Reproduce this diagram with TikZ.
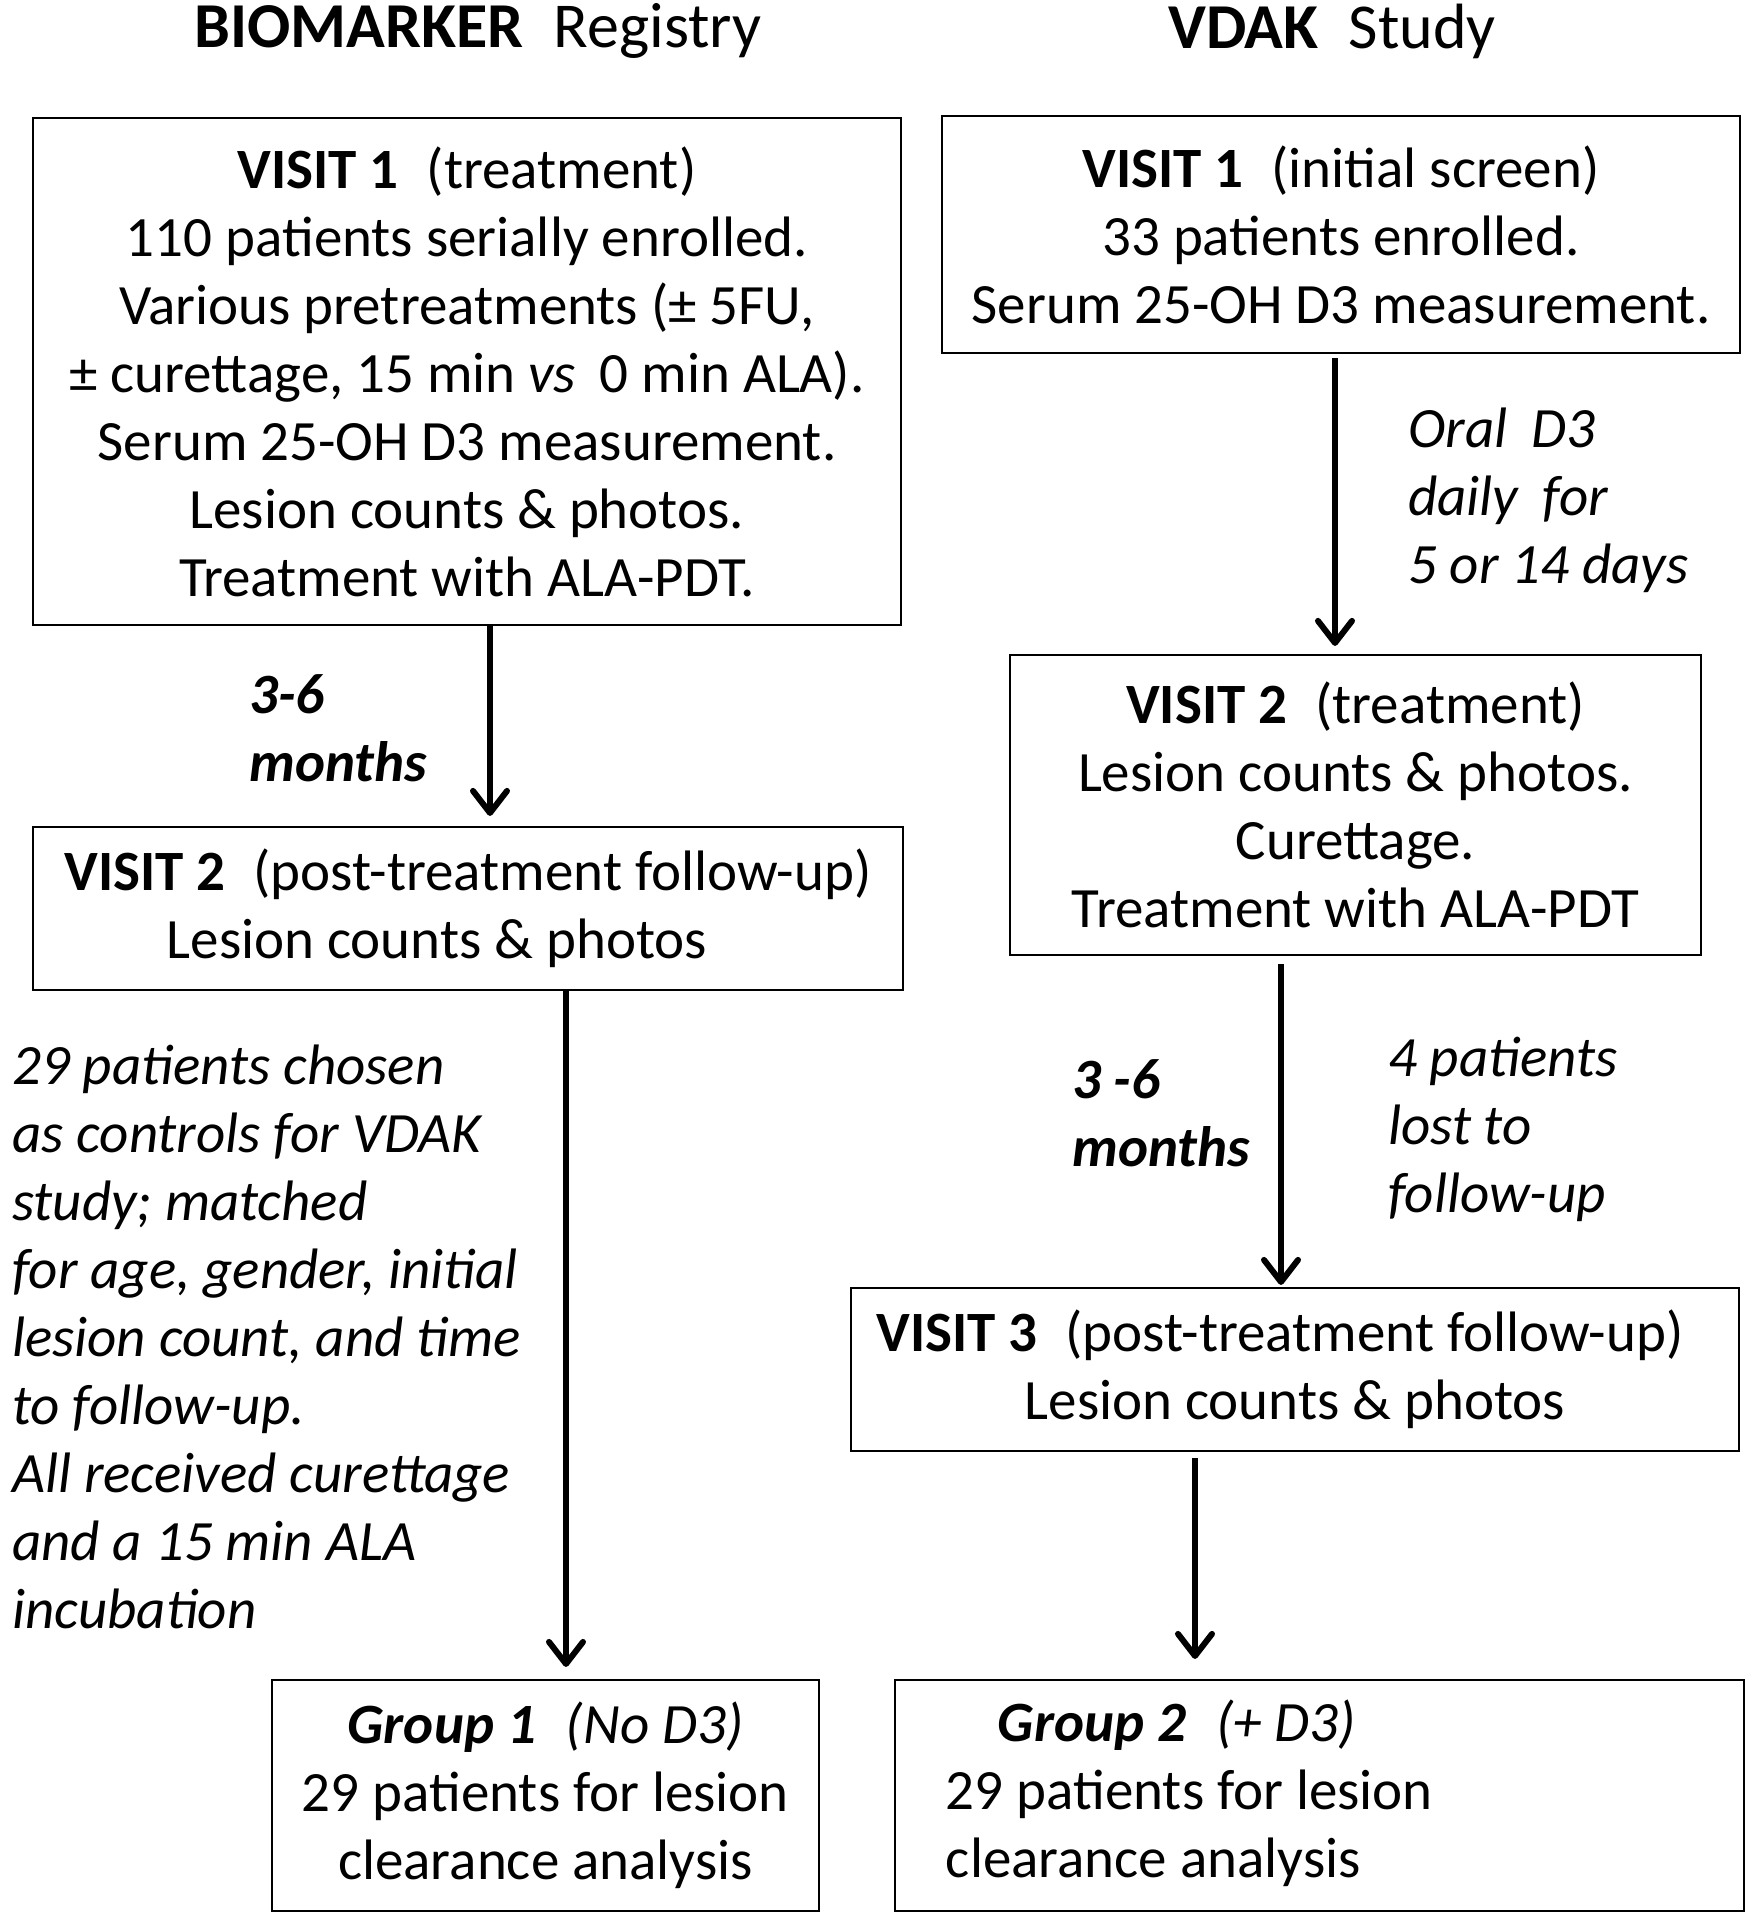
\documentclass[tikz,border=0pt]{standalone}
\usepackage{fontspec}
\setmainfont{Carlito}
\usetikzlibrary{arrows.meta}
\newcommand\bodysize{\fontsize{57}{68}\selectfont}
\tikzset{
  visit/.style={draw,line width=2.2pt,align=center,inner sep=0pt},
  note/.style={anchor=west,align=left,inner sep=0pt,font=\bodysize\itshape},
  flow/.style={line width=6pt,-{Straight Barb[length=22pt,width=34pt,round]}},
}
\begin{document}
\begin{tikzpicture}[x=1pt,y=1pt,font=\bodysize]
    \useasboundingbox (0,0) rectangle (1749,-1920);
    % titles
    \node[font=\fontsize{64}{68}\selectfont] (regtitle) at (478,-31) {\textbf{BIOMARKER}\hspace{30pt}Registry};
    \node[font=\fontsize{64}{68}\selectfont] (vdaktitle) at (1332,-31) {\textbf{VDAK}\hspace{30pt}Study};
    % registry column
    \node[visit,minimum width=868pt,minimum height=507pt] (lv1) at (467,-371.5)
        {\textbf{VISIT 1}\hspace{28pt}(treatment)\\110 patients serially enrolled.\\Various pretreatments (± 5FU,\\± curettage, 15 min \textit{vs}\hspace{24pt}0 min ALA).\\Serum 25-OH D3 measurement.\\Lesion counts \& photos.\\Treatment with ALA-PDT.};
    \node[visit,minimum width=870pt,minimum height=163pt] (lv2) at (468,-908.5)
        {\textbf{VISIT 2}\hspace{28pt}(post-treatment follow-up)\\Lesion counts \& photos\hspace*{62pt}};
    \node[visit,minimum width=547pt,minimum height=231pt] (g1) at (545.5,-1795.5)
        {\textbf{\textit{Group 1}}\hspace{30pt}\textit{(No D3)}\\29 patients for lesion\\clearance analysis};
    % vdak column
    \node[visit,minimum width=798pt,minimum height=237pt] (rv1) at (1341,-234.5)
        {\textbf{VISIT 1}\hspace{28pt}(initial screen)\\33 patients enrolled.\\Serum 25-OH D3 measurement.};
    \node[visit,minimum width=691pt,minimum height=300pt] (rv2) at (1355.5,-805)
        {\textbf{VISIT 2}\hspace{28pt}(treatment)\\Lesion counts \& photos.\\Curettage.\\Treatment with ALA-PDT};
    \node[visit,minimum width=888pt,minimum height=163pt] (rv3) at (1295,-1369.5)
        {\textbf{VISIT 3}\hspace{28pt}(post-treatment follow-up)\hspace*{30pt}\\Lesion counts \& photos};
    \node[visit,minimum width=849pt,minimum height=231pt] (g2) at (1319.5,-1795.5)
        {\begin{tabular}{@{}l@{}}\hspace*{52pt}\textbf{\textit{Group 2}}\hspace{30pt}\textit{(+ D3)}\\29 patients for lesion\\clearance analysis\end{tabular}\hspace*{260pt}};
    % side notes
    \node[note,font=\bodysize\bfseries\itshape] (lwait) at (249,-728) {3-6\\months};
    \node[note] (ctrl) at (12,-1337) {29 patients chosen\\as controls for VDAK\\study; matched\\for age, gender, initial\\lesion count, and time\\to follow-up.\\All received curettage\\and a 15 min ALA\\incubation};
    \node[note] (oral) at (1408,-500) {Oral\hspace{24pt}D3\\daily\hspace{24pt}for\\5 or 14 days};
    \node[note,font=\bodysize\bfseries\itshape] (rwait) at (1072,-1113) {3 -6\\months};
    \node[note] (lost) at (1388,-1129) {4 patients\\lost to\\follow-up};
    % arrows
    \draw[flow,shorten >=10pt] ([xshift=23pt]lv1.south) -- ([xshift=23pt]lv1.south |- lv2.north);
    \draw[flow,shorten >=12pt] ([xshift=98pt]lv2.south) -- ([xshift=98pt]lv2.south |- g1.north);
    \draw[flow,shorten <=4pt,shorten >=8pt] ([xshift=-6pt]rv1.south) -- ([xshift=-6pt]rv1.south |- rv2.north);
    \draw[flow,shorten <=8pt,shorten >=2pt] ([xshift=-74.5pt]rv2.south) -- ([xshift=-74.5pt]rv2.south |- rv3.north);
    \draw[flow,shorten <=6pt,shorten >=20pt] ([xshift=-100pt]rv3.south) -- ([xshift=-100pt]rv3.south |- g2.north);
\end{tikzpicture}
\end{document}
